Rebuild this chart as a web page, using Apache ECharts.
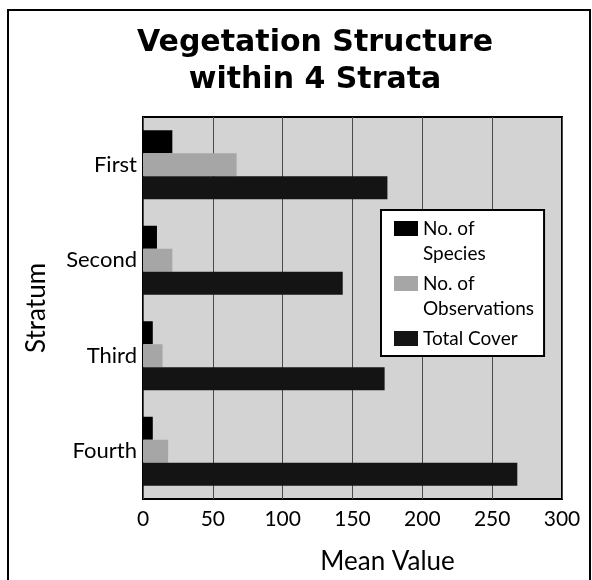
<!DOCTYPE html>
<html>
<head>
<meta charset="utf-8">
<style>
  html, body { margin: 0; padding: 0; background: #fff; }
  #chart { width: 592px; height: 580px; }
</style>
<script src="https://cdn.jsdelivr.net/npm/echarts@6/dist/echarts.min.js"></script>
</head>
<body>
<div id="chart"></div>
<script>
// Strata (top to bottom) and mean values per measure
const strata = ['First', 'Second', 'Third', 'Fourth'];
const speciesCount = [21, 10, 7, 7];
const observationCount = [67, 21, 14, 18];
const totalCover = [175, 143, 173, 268];
const seriesNames = ['No. of Species', 'No. of Observations', 'Total Cover'];
// Each legend label is three lines tall, so that the swatch (centred on the
// block) sits level with the first visible line
const legendLabels = ['\nNo. of\nSpecies', '\nNo. of\nObservations', '\nTotal Cover\n '];

const FONT = 'Lato, "Open Sans", sans-serif';
const TITLE_FONT = '"DejaVu Sans", Verdana, sans-serif';
const LINE = 25;

const chart = echarts.init(document.getElementById('chart'), null, { renderer: 'canvas' });

chart.setOption({
  animation: false,
  backgroundColor: '#ffffff',
  title: {
    text: 'Vegetation Structure\nwithin 4 Strata',
    left: 310,
    top: 20,
    textAlign: 'center',
    textStyle: {
      fontFamily: TITLE_FONT,
      fontWeight: 'bold',
      fontSize: 30,
      lineHeight: 37,
      color: '#000'
    }
  },
  graphic: [{
    type: 'rect',
    shape: { x: 8, y: 10, width: 582, height: 620 },
    style: { fill: 'none', stroke: '#000', lineWidth: 2 },
    z: 0,
    silent: true
  }],
  legend: {
    orient: 'vertical',
    left: 381,
    top: 210,
    padding: [-19, 10, -20, 13],
    itemWidth: 24,
    itemHeight: 15,
    itemGap: -20,
    backgroundColor: '#ffffff',
    borderColor: '#000',
    borderWidth: 2,
    icon: 'rect',
    selectedMode: false,
    data: seriesNames,
    formatter: function (name) {
      return legendLabels[seriesNames.indexOf(name)];
    },
    textStyle: {
      fontFamily: FONT,
      fontSize: 19,
      lineHeight: LINE,
      color: '#000'
    },
    z: 10
  },
  grid: {
    left: 143,
    right: 30,
    top: 117,
    bottom: 78,
    show: true,
    backgroundColor: '#d3d3d3',
    borderColor: '#000',
    borderWidth: 2,
    containLabel: false
  },
  xAxis: {
    type: 'value',
    min: 0,
    max: 300,
    interval: 50,
    name: 'Mean Value',
    nameLocation: 'middle',
    nameGap: 50,
    nameTextStyle: { fontFamily: FONT, fontSize: 26, color: '#000', padding: [0, 0, 0, 70] },
    axisLine: { show: false },
    axisTick: { show: false },
    axisLabel: { fontFamily: FONT, fontSize: 21, color: '#000', margin: 10 },
    splitLine: { show: true, lineStyle: { color: '#4a4a4a', width: 1 } }
  },
  yAxis: {
    type: 'category',
    data: strata,
    inverse: true,
    name: 'Stratum',
    nameLocation: 'middle',
    nameGap: 93,
    nameRotate: 90,
    nameTextStyle: { fontFamily: FONT, fontSize: 26, color: '#000' },
    axisLine: { show: false },
    axisTick: { show: false },
    axisLabel: { fontFamily: FONT, fontSize: 22, color: '#000', margin: 6 },
    splitLine: { show: false }
  },
  series: [
    {
      name: seriesNames[0],
      type: 'bar',
      data: speciesCount,
      barWidth: 23,
      barGap: '0%',
      itemStyle: { color: '#000000' }
    },
    {
      name: seriesNames[1],
      type: 'bar',
      data: observationCount,
      barWidth: 23,
      barGap: '0%',
      itemStyle: { color: '#a6a6a6' }
    },
    {
      name: seriesNames[2],
      type: 'bar',
      data: totalCover,
      barWidth: 23,
      barGap: '0%',
      itemStyle: { color: '#141414' }
    }
  ]
});
</script>
</body>
</html>
